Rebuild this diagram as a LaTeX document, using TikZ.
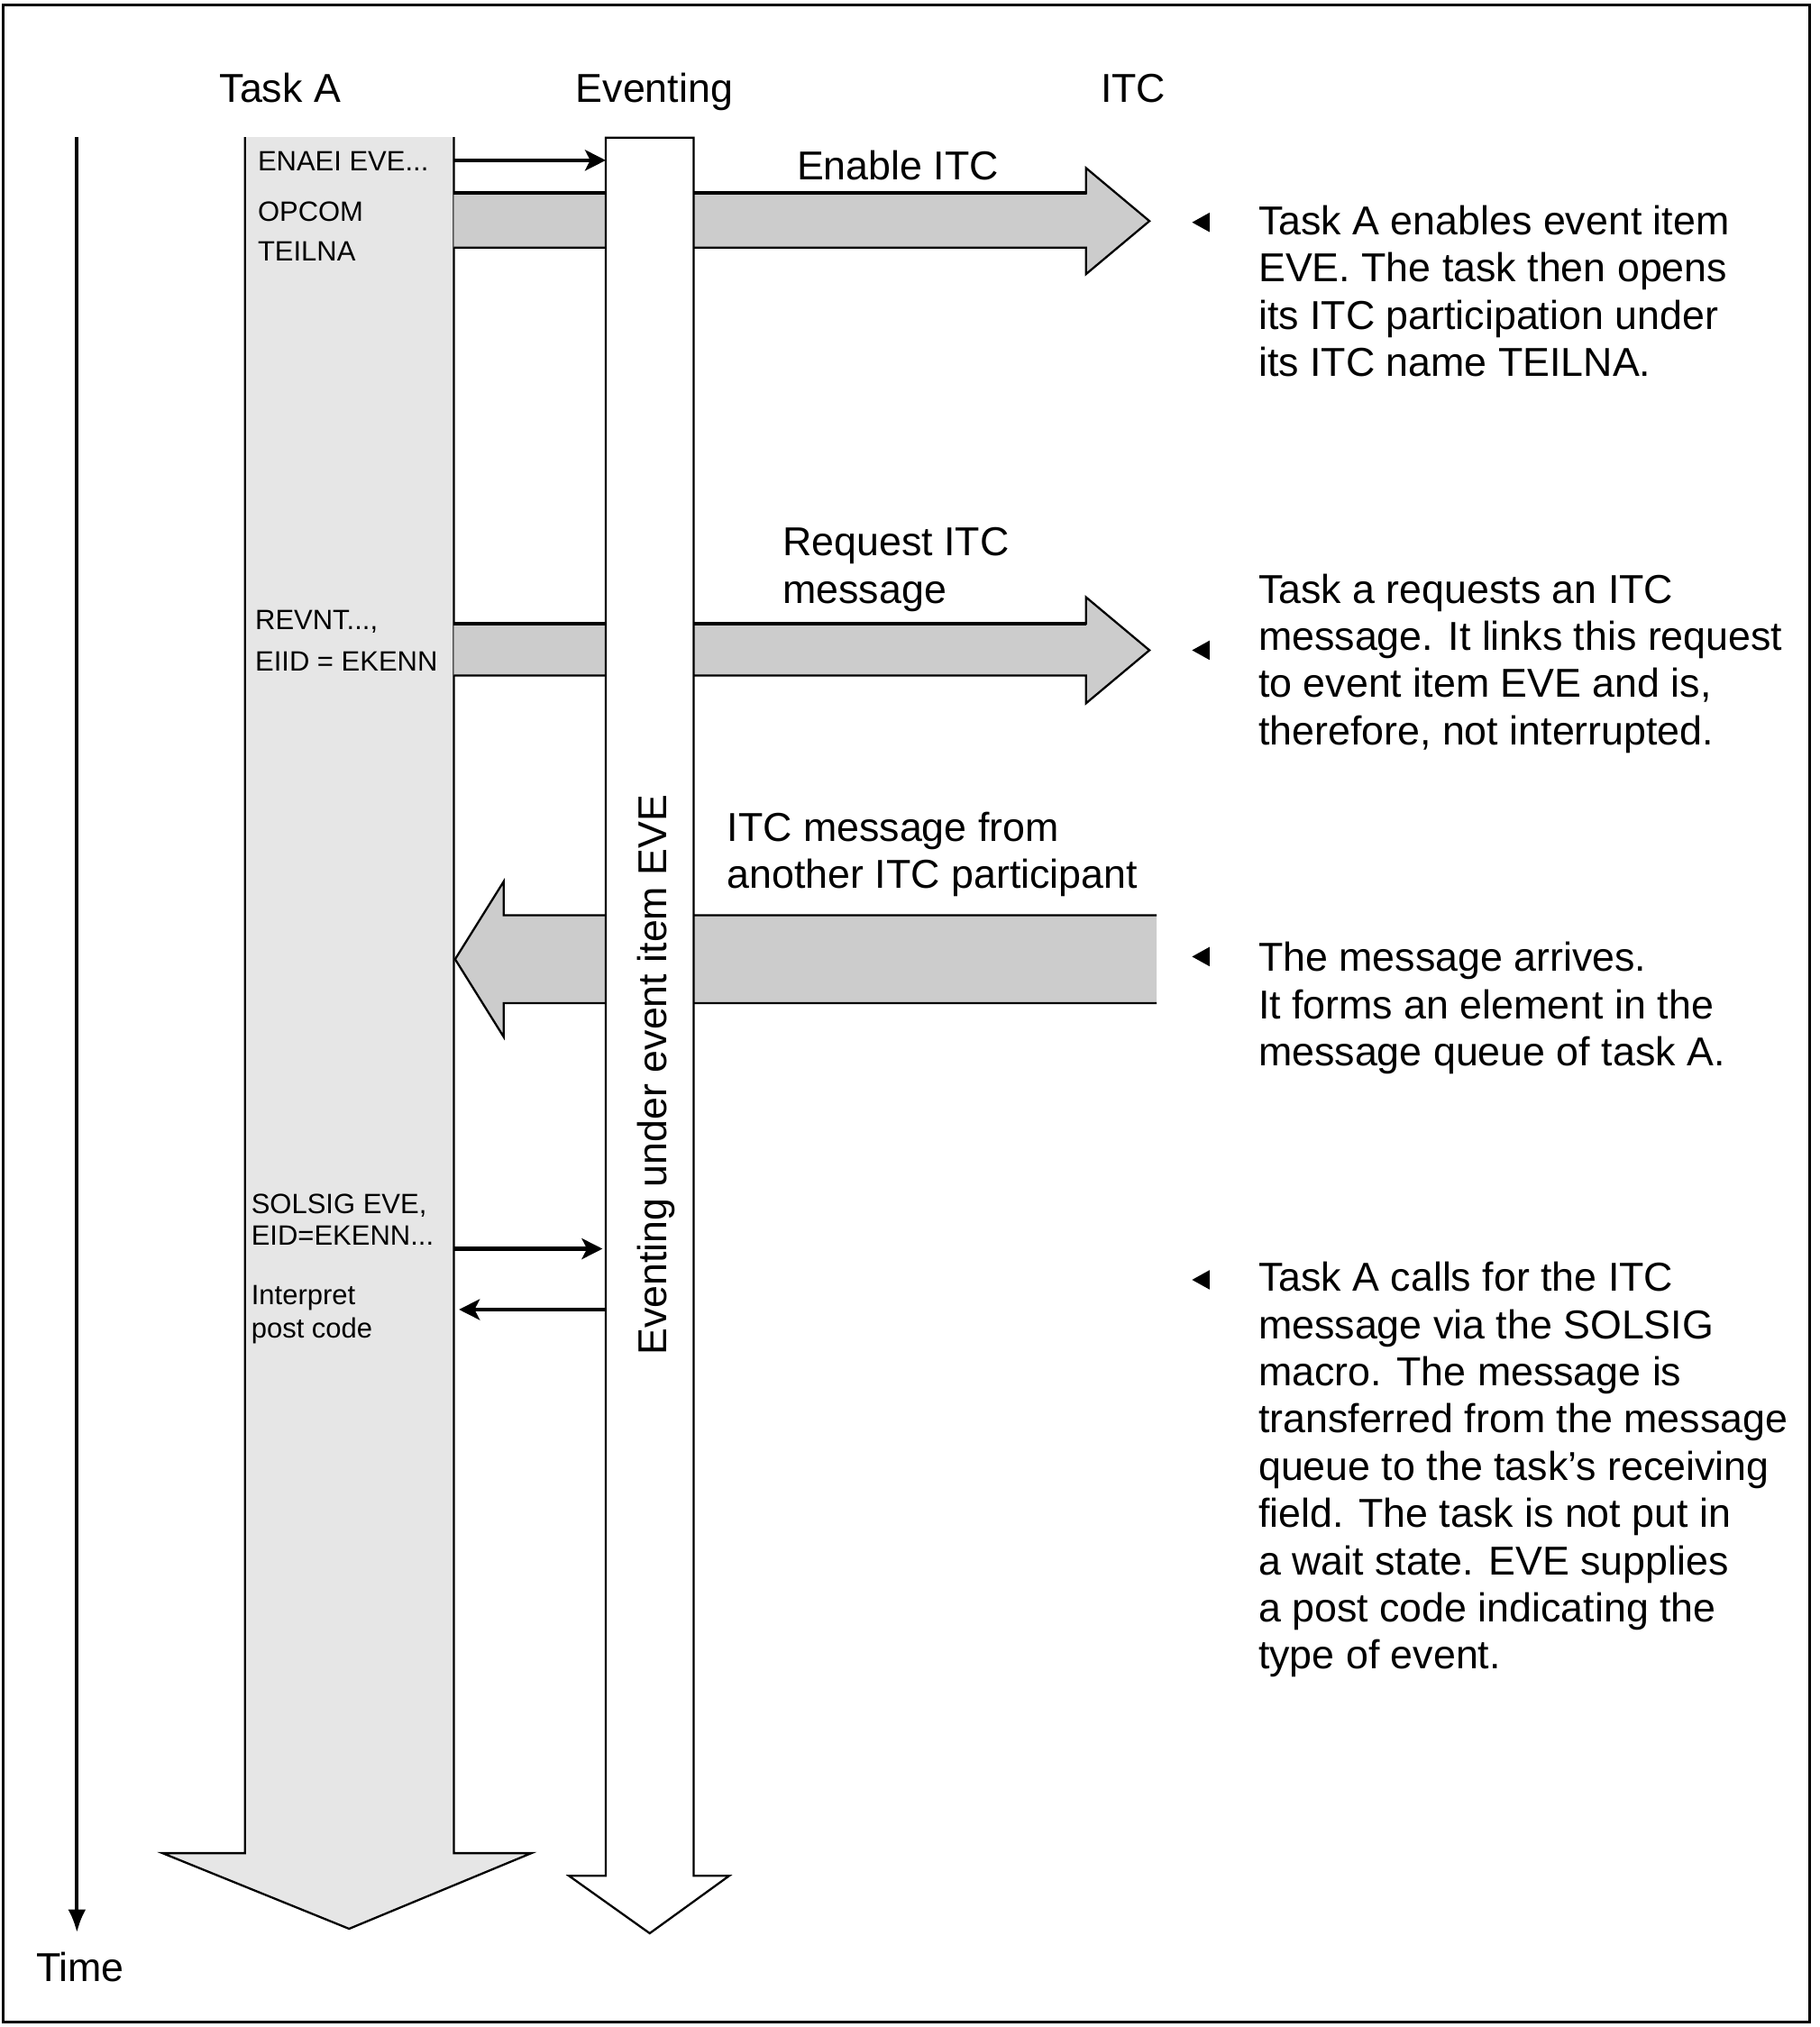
\documentclass[tikz,border=0pt]{standalone}
\usepackage{fontspec}
\setmainfont{Liberation Sans}
\usetikzlibrary{arrows.meta}
\definecolor{taskgray}{HTML}{E6E6E6}
\definecolor{bandgray}{HTML}{CCCCCC}
\begin{document}
\begin{tikzpicture}[x=0.5pt,y=-0.5pt,
  txt/.style={inner sep=0pt, font=\fontsize{15.6pt}{18.25pt}\selectfont, anchor=base west, align=left},
  smalltxt/.style={inner sep=0pt, font=\fontsize{10.8pt}{13pt}\selectfont, anchor=base west},
  outl/.style={line width=0.8pt, line join=miter},
  band/.style={fill=bandgray},
  callarrow/.style={line width=1.6pt, -{Stealth[length=8pt,width=8pt,inset=2pt]}},
  bullet/.style={fill=black}
]
\useasboundingbox (0,0) rectangle (1407,1568);
\draw[line width=1pt] (2.5,4) rectangle (1399.5,1564);

% headers
\node[txt] (hTask) at (169.5,79) {Task A};
\node[txt] (hEv) at (445,79) {Eventing};
\node[txt] (hITC) at (851,79) {ITC};

% time arrow
\coordinate (tTop) at (59.5,106);
\coordinate (tEnd) at (59.5,1495);
\draw[line width=1.5pt, -{Latex[length=9pt,width=7pt]}] (tTop) -- (tEnd);
\node[txt, anchor=base] (time) at (62,1533) {Time};

% Task A bar
\fill[taskgray] (189.5,106) -- (189.5,1433.5) -- (125.7,1433.5) -- (270,1492) -- (411,1433.5) -- (351,1433.5) -- (351,106) -- cycle;
\draw[outl] (189.5,106) -- (189.5,1433.5) -- (125.7,1433.5) -- (270,1492) -- (411,1433.5) -- (351,1433.5) -- (351,106);

% band 1 (Enable ITC)
\fill[band] (351,149.5) -- (840,149.5) -- (840,130) -- (889,171) -- (840,212) -- (840,191.5) -- (351,191.5) -- cycle;
\draw[outl] (351,149.5) -- (840,149.5) -- (840,130) -- (889,171) -- (840,212) -- (840,191.5) -- (351,191.5);
\draw[line width=1.4pt] (351,149.5) -- (840,149.5);

% band 2 (Request ITC message)
\fill[band] (351,482.5) -- (840,482.5) -- (840,462) -- (889,503) -- (840,544) -- (840,522.5) -- (351,522.5) -- cycle;
\draw[outl] (351,482.5) -- (840,482.5) -- (840,462) -- (889,503) -- (840,544) -- (840,522.5) -- (351,522.5);
\draw[line width=1.4pt] (351,482.5) -- (840,482.5);

% band 3 (ITC message from another participant)
\fill[band] (894.5,708) -- (389.5,708) -- (389.5,682) -- (352,742) -- (389.5,802) -- (389.5,776) -- (894.5,776) -- cycle;
\draw[outl] (894.5,708) -- (389.5,708) -- (389.5,682) -- (352,742) -- (389.5,802) -- (389.5,776) -- (894.5,776);

% Eventing bar (on top of bands)
\filldraw[outl, fill=white] (468.5,106.5) -- (468.5,1451) -- (440,1451) -- (502.5,1495.5) -- (564,1451) -- (536.5,1451) -- (536.5,106.5) -- cycle;
\node[txt, anchor=base, rotate=90] (evlabel) at (515.5,831.5) {Eventing under event item EVE};

% small call arrows
\coordinate (c1s) at (351,124);
\coordinate (c1e) at (468.5,124);
\draw[callarrow] (c1s) -- (c1e);
\coordinate (c2s) at (351,966);
\coordinate (c2e) at (466,966);
\draw[callarrow] (c2s) -- (c2e);
\coordinate (c3s) at (468.5,1013);
\coordinate (c3e) at (355,1013);
\draw[callarrow] (c3s) -- (c3e);

% left labels in Task A
\node[smalltxt] (l1) at (199,132) {ENAEI EVE...};
\node[smalltxt] (l2) at (199,171) {OPCOM};
\node[smalltxt] (l3) at (199,202) {TEILNA};
\node[smalltxt] (l4) at (197,487) {REVNT...,};
\node[smalltxt] (l5) at (197,519) {EIID = EKENN};
\node[smalltxt] (l6) at (194,939) {SOLSIG EVE,};
\node[smalltxt] (l7) at (194,963) {EID=EKENN...};
\node[smalltxt] (l8) at (194,1009.5) {Interpret};
\node[smalltxt] (l9) at (194,1035) {post code};

% arrow labels (base = last line)
\node[txt] (enable) at (616,139) {Enable ITC};
\node[txt] (request) at (605,466.5) {Request ITC\\message};
\node[txt] (incoming) at (562,687) {ITC message from\\another ITC participant};

% bullets
\fill[bullet] (922,172) -- (935.5,164.5) -- (935.5,179.5) -- cycle;
\fill[bullet] (922,503) -- (935.5,495.5) -- (935.5,510.5) -- cycle;
\fill[bullet] (922,740) -- (935.5,732.5) -- (935.5,747.5) -- cycle;
\fill[bullet] (922,990) -- (935.5,982.5) -- (935.5,997.5) -- cycle;

% descriptions (base = last line)
\node[txt] (d1) at (973,291) {Task A enables event item\\EVE. The task then opens\\its ITC participation under\\its ITC name TEILNA.};
\node[txt] (d2) at (973,576) {Task a requests an ITC\\message. It links this request\\to event item EVE and is,\\therefore, not interrupted.};
\node[txt] (d3) at (973,824.5) {The message arrives.\\It forms an element in the\\message queue of task A.};
\node[txt] (d4) at (973,1291) {Task A calls for the ITC\\message via the SOLSIG\\macro. The message is\\transferred from the message\\queue to the task's receiving\\field. The task is not put in\\a wait state. EVE supplies\\a post code indicating the\\type of event.};
\end{tikzpicture}
\end{document}
